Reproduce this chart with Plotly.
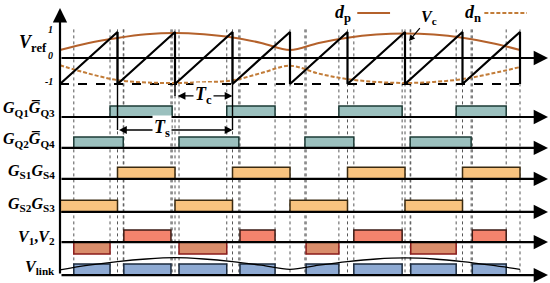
import plotly.graph_objects as go

# ---------------- data (time in carrier periods Tc) ----------------
t_knots = [0, 0.5, 1, 1.5, 2, 2.5, 3, 3.5, 4, 4.5, 5, 5.5, 6, 6.5, 7, 7.5, 8]
dp_vals = [0.31, 0.58, 0.77, 0.91, 0.96, 0.91, 0.79, 0.58, 0.31, 0.58, 0.78, 0.90, 0.94, 0.90, 0.78, 0.58, 0.31]
dn_vals = [-0.28, -0.60, -0.85, -0.94, -0.96, -0.93, -0.86, -0.58, -0.30, -0.60, -0.81, -0.92, -0.96, -0.92, -0.81, -0.60, -0.35]
vlink_env = [0.20, 0.38, 0.52, 0.62, 0.67, 0.62, 0.52, 0.38, 0.22, 0.38, 0.52, 0.62, 0.66, 0.62, 0.52, 0.38, 0.22]

saw_t = [0, 1, 1, 2, 2, 3, 3, 4, 4, 5, 5, 6, 6, 7, 7, 8, 8]
saw_v = [-1, 1, -1, 1, -1, 1, -1, 1, -1, 1, -1, 1, -1, 1, -1, 1, -1]

gq1_on = [0.87, 2.90, 4.85, 6.89]
gq1_off = [1.95, 3.74, 5.95, 7.76]
gq2_on = [0.24, 2.07, 4.26, 6.09]
gq2_off = [1.10, 3.11, 5.11, 7.15]
gs1_on = [1, 3, 5, 7]
gs1_off = [2, 4, 6, 8]
gs2_on = [0, 2, 4, 6]
gs2_off = [1, 3, 5, 7]
v_on = [0.24, 1.11, 2.07, 3.13, 4.28, 5.11, 6.10, 7.17]
v_off = [0.87, 1.93, 2.90, 3.74, 4.85, 5.95, 6.89, 7.76]
v_sign = [-1, 1, -1, 1, -1, 1, -1, 1]

row_labels = [
    "<b><i>G</i><sub>Q1</sub><i>G\u0305</i><sub>Q3</sub></b>",
    "<b><i>G</i><sub>Q2</sub><i>G\u0305</i><sub>Q4</sub></b>",
    "<b><i>G</i><sub>S1</sub><i>G</i><sub>S4</sub></b>",
    "<b><i>G</i><sub>S2</sub><i>G</i><sub>S3</sub></b>",
    "<b><i>V</i><sub>1</sub>,<i>V</i><sub>2</sub></b>",
    "<b><i>V</i><sub>link</sub></b>",
]

# ---------------- layout constants ----------------
FONT = "Liberation Serif"
BASE = {"gq1": -2.27, "gq2": -3.46, "gs1": -4.65, "gs2": -5.92, "v": -7.08, "vl": -8.35}
LABEL_Y = [-1.95, -3.17, -4.35, -5.62, -6.92, -8.05]
H_GQ, H_GS, H_V, H_VL = 0.42, 0.45, 0.46, 0.43
T_END = 8.487
Y_TOP = 1.1

fig = go.Figure()


def pulses(on, off, base, h, sign=None):
    xs, ys = [], []
    for i, (a, b) in enumerate(zip(on, off)):
        hh = h * (sign[i] if sign else 1)
        xs += [a, a, b, b, a, None]
        ys += [base, base + hh, base + hh, base, base, None]
    return xs, ys


# dotted guide lines
edges = sorted(set(gq1_on + gq1_off + gq2_on + gq2_off + v_on + v_off + list(range(1, 9))))
dx, dy = [], []
for e in edges:
    dx += [e, e, None]
    dy += [Y_TOP, BASE["vl"], None]
fig.add_trace(go.Scatter(x=dx, y=dy, mode="lines",
                         line=dict(color="#555555", width=1, dash="dot"), hoverinfo="skip"))

# pulse rows
def add_pulses(on, off, base, h, fill, outline, sign=None):
    xs, ys = pulses(on, off, base, h, sign)
    fig.add_trace(go.Scatter(x=xs, y=ys, mode="lines", fill="toself", fillcolor=fill,
                             line=dict(color=outline, width=1.5), hoverinfo="skip"))

add_pulses(gq1_on, gq1_off, BASE["gq1"], H_GQ, "#9BC0BE", "#1d3b36")
add_pulses(gq2_on, gq2_off, BASE["gq2"], H_GQ, "#9BC0BE", "#1d3b36")
add_pulses(gs1_on, gs1_off, BASE["gs1"], H_GS, "#F8C37F", "#3a2a10")
add_pulses(gs2_on, gs2_off, BASE["gs2"], H_GS, "#F8C37F", "#3a2a10")
pos_on = [a for a, s in zip(v_on, v_sign) if s > 0]
pos_off = [b for b, s in zip(v_off, v_sign) if s > 0]
neg_on = [a for a, s in zip(v_on, v_sign) if s < 0]
neg_off = [b for b, s in zip(v_off, v_sign) if s < 0]
add_pulses(pos_on, pos_off, BASE["v"], H_V, "#F4836D", "#3b1a14")
add_pulses(neg_on, neg_off, BASE["v"], -H_V, "#D98D6B", "#8a1b1b")
add_pulses(v_on, v_off, BASE["vl"], H_VL, "#8EAAD3", "#1b2a3d")

# Vlink envelope
fig.add_trace(go.Scatter(x=t_knots, y=[BASE["vl"] + v for v in vlink_env], mode="lines",
                         line=dict(color="black", width=1.3, shape="spline"), hoverinfo="skip"))

# -1 dashed level
fig.add_trace(go.Scatter(x=[0, 8], y=[-1, -1], mode="lines",
                         line=dict(color="black", width=1.8, dash="dash"), hoverinfo="skip"))
# dp / dn
fig.add_trace(go.Scatter(x=t_knots, y=dp_vals, mode="lines",
                         line=dict(color="#B4612B", width=2, shape="spline"), hoverinfo="skip"))
fig.add_trace(go.Scatter(x=t_knots, y=dn_vals, mode="lines",
                         line=dict(color="#C27C38", width=2, dash="4px,2px", shape="spline"), hoverinfo="skip"))
# carrier sawtooth
fig.add_trace(go.Scatter(x=saw_t, y=saw_v, mode="lines",
                         line=dict(color="black", width=2.2), hoverinfo="skip"))
# extension lines for Ts / Tc
fig.add_trace(go.Scatter(x=[1, 1, None, 2, 2, None, 3, 3], y=[1, -2.77, None, 1, -1.46, None, 1, -2.77],
                         mode="lines", line=dict(color="black", width=1.4), hoverinfo="skip"))

ann = []
# axes arrows
for b in [0] + list(BASE.values()):
    ann.append(dict(x=T_END, y=b, ax=0, ay=b, xref="x", yref="y", axref="x", ayref="y",
                    showarrow=True, arrowhead=2, arrowsize=1.3, arrowwidth=2.2, arrowcolor="black", text=""))
ann.append(dict(x=0, y=1.92, ax=0, ay=BASE["vl"], xref="x", yref="y", axref="x", ayref="y",
                showarrow=True, arrowhead=2, arrowsize=1.3, arrowwidth=2.2, arrowcolor="black", text=""))
# Tc, Ts arrows
ann.append(dict(x=3, y=-1.46, ax=2.02, ay=-1.46, xref="x", yref="y", axref="x", ayref="y",
                showarrow=True, arrowhead=2, startarrowhead=2, arrowside="end+start",
                arrowsize=1.2, arrowwidth=1.3, arrowcolor="black", text=""))
ann.append(dict(x=3, y=-2.77, ax=1.0, ay=-2.77, xref="x", yref="y", axref="x", ayref="y",
                showarrow=True, arrowhead=2, startarrowhead=2, arrowside="end+start",
                arrowsize=1.2, arrowwidth=1.3, arrowcolor="black", text=""))
ann.append(dict(x=2.5, y=-1.46, xref="x", yref="y", showarrow=False, bgcolor="white",
                text="<b><i>T</i><sub>c</sub></b>", font=dict(family=FONT, size=18, color="black")))
ann.append(dict(x=1.78, y=-2.72, xref="x", yref="y", showarrow=False, bgcolor="white",
                text="<b><i>T</i><sub>s</sub></b>", font=dict(family=FONT, size=18, color="black")))
# Vc
ann.append(dict(x=6.07, y=0.65, ax=20, ay=-24, xref="x", yref="y", showarrow=True,
                arrowhead=2, arrowsize=1, arrowwidth=1.2, arrowcolor="black",
                text="<b><i>V</i><sub>c</sub></b>", font=dict(family=FONT, size=16, color="black")))
# legend
ann.append(dict(x=5.1, y=1.73, xref="x", yref="y", xanchor="right", showarrow=False,
                text="<b><i>d</i><sub>p</sub></b>", font=dict(family=FONT, size=18, color="black")))
ann.append(dict(x=7.35, y=1.73, xref="x", yref="y", xanchor="right", showarrow=False,
                text="<b><i>d</i><sub>n</sub></b>", font=dict(family=FONT, size=18, color="black")))
# Vref label and ticks
ann.append(dict(x=-0.2, y=0.55, xref="x", yref="y", xanchor="right", showarrow=False,
                text="<b><i>V</i><sub>ref</sub></b>", font=dict(family=FONT, size=18, color="black")))
for v, s in [(1, "1"), (0, "0"), (-1, "-1")]:
    ann.append(dict(x=-0.09, y=v + 0.08, xref="x", yref="y", xanchor="right", showarrow=False,
                    text="<b><i>" + s + "</i></b>", font=dict(family=FONT, size=10, color="black")))
for lab, y in zip(row_labels, LABEL_Y):
    ann.append(dict(x=-0.05, y=y, xref="x", yref="y", xanchor="right", showarrow=False,
                    text=lab, font=dict(family=FONT, size=16, color="black")))

shapes = [
    dict(type="line", xref="x", yref="y", x0=5.17, x1=5.74, y0=1.73, y1=1.73,
         line=dict(color="#B4612B", width=2)),
    dict(type="line", xref="x", yref="y", x0=7.38, x1=8.12, y0=1.73, y1=1.73,
         line=dict(color="#C27C38", width=2, dash="4px,2px")),
]

fig.update_layout(
    width=550, height=283, margin=dict(l=0, r=0, t=0, b=0),
    paper_bgcolor="white", plot_bgcolor="white", showlegend=False,
    xaxis=dict(range=[-60 / 57.5, 490 / 57.5], visible=False, fixedrange=True),
    yaxis=dict(range=[-225 / 26, 58 / 26], visible=False, fixedrange=True),
    annotations=ann, shapes=shapes,
)
fig.write_html("out.html", config={"displayModeBar": False},
               post_script="document.body.style.margin='0';document.body.style.overflow='hidden';")
